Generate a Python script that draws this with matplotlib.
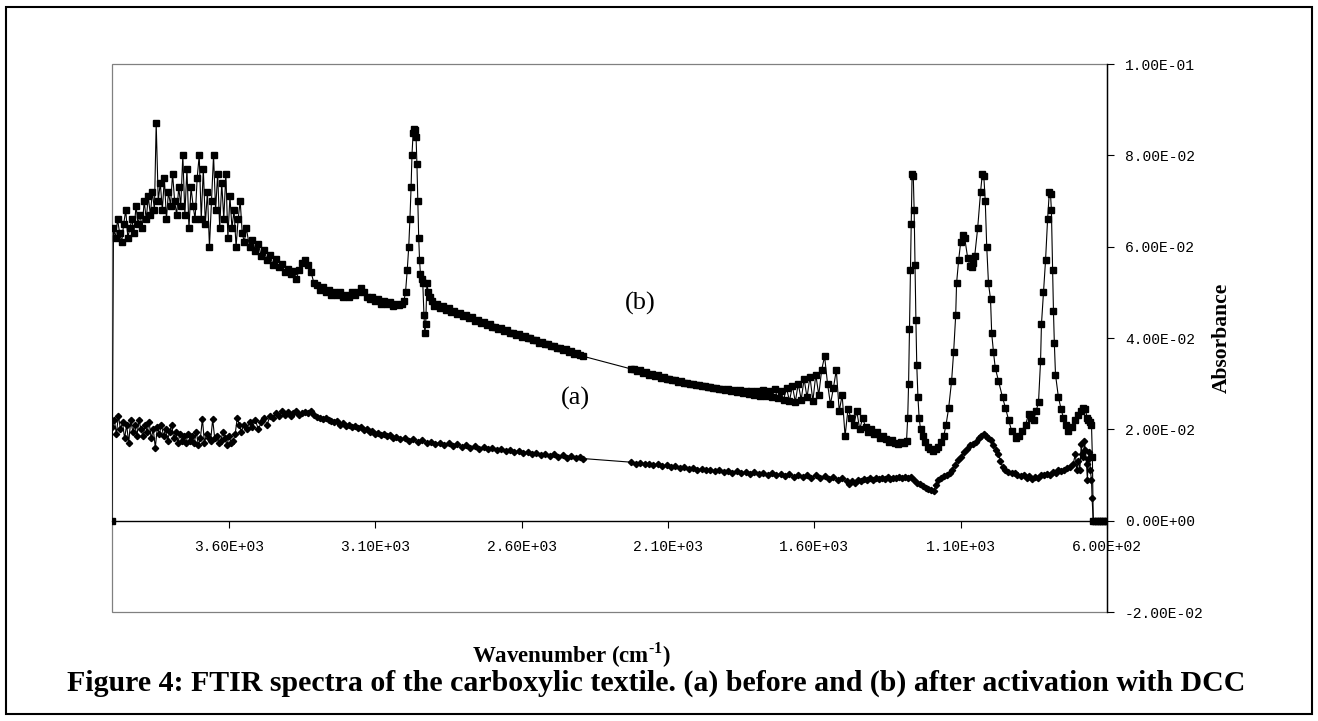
import matplotlib
matplotlib.use("Agg")
import matplotlib.pyplot as plt
from matplotlib.patches import Rectangle
from matplotlib.ticker import FuncFormatter

plt.rcParams["font.family"] = ["Liberation Serif", "DejaVu Serif"]
plt.rcParams["mathtext.fontset"] = "custom"
plt.rcParams["mathtext.rm"] = "Liberation Serif:bold"
plt.rcParams["mathtext.bf"] = "Liberation Serif:bold"

# ---- data (wavenumber cm-1, absorbance) ----
# (b) after activation with DCC, square markers
b_wn = [4000, 3995, 3988, 3981, 3974, 3967, 3960, 3953, 3946, 3939,
        3932, 3925, 3918, 3911, 3904, 3897, 3890, 3883, 3876, 3869,
        3862, 3855, 3849, 3842, 3835, 3828, 3821, 3814, 3807, 3800,
        3793, 3786, 3779, 3772, 3765, 3758, 3751, 3744, 3737, 3730,
        3723, 3716, 3709, 3702, 3695, 3688, 3681, 3674, 3667, 3660,
        3653, 3646, 3639, 3632, 3625, 3618, 3611, 3604, 3597, 3590,
        3583, 3576, 3569, 3562, 3555, 3548, 3541,
        3530, 3520, 3510, 3500, 3490, 3480, 3470, 3460, 3450, 3440,
        3430, 3420, 3410, 3400, 3390, 3380, 3370, 3360, 3350, 3340,
        3330, 3320, 3310, 3300, 3290, 3280, 3270, 3260, 3250, 3240,
        3230, 3220, 3210, 3200, 3190, 3180, 3170, 3160, 3150, 3140,
        3130, 3120, 3110, 3100, 3090, 3080, 3070, 3060, 3050, 3040,
        3030, 3020, 3010, 3003,
        2997, 2991, 2986, 2982, 2978, 2975, 2971, 2967, 2964, 2961,
        2958, 2955, 2952, 2949, 2946, 2942, 2938, 2934, 2931, 2928,
        2924, 2919, 2913, 2906, 2898, 2890, 2880, 2870, 2860, 2850,
        2840, 2830, 2820, 2810, 2800, 2790, 2780, 2770, 2760, 2750,
        2740, 2730, 2720, 2710, 2700, 2690, 2680, 2670, 2660, 2650,
        2640, 2630, 2620, 2610, 2600, 2590, 2580, 2570, 2560, 2550,
        2540, 2530, 2520, 2510, 2500, 2490, 2480, 2470, 2460, 2450,
        2440, 2430, 2420, 2410, 2400, 2390,
        2225, 2215, 2205, 2195, 2185, 2175, 2165, 2155, 2145, 2135,
        2125, 2115, 2105, 2095, 2085, 2075, 2065, 2055, 2045, 2035,
        2025, 2015, 2005, 1995, 1985, 1975, 1965, 1955, 1945, 1935,
        1925, 1915, 1905, 1895, 1885, 1875, 1865, 1855, 1845, 1835,
        1825, 1815, 1805, 1795, 1785, 1775, 1765, 1755, 1745, 1735,
        1725, 1715, 1705, 1695, 1685, 1675, 1665, 1655, 1645, 1635,
        1625, 1615, 1605, 1595, 1585, 1575, 1565, 1555, 1545, 1535,
        1525, 1515, 1505, 1495, 1485, 1475, 1465, 1455, 1445, 1435,
        1425, 1415, 1405, 1395, 1385, 1375, 1365, 1355, 1345, 1335,
        1325, 1315, 1305, 1295, 1285,
        1281, 1278, 1275, 1272, 1269, 1266, 1262, 1259, 1256, 1253,
        1250, 1246, 1242, 1237, 1230, 1222, 1213, 1204, 1195, 1186,
        1177, 1168, 1158, 1150, 1141, 1131, 1124, 1117, 1114, 1107,
        1100, 1093, 1086, 1076, 1068, 1063, 1057, 1052, 1042, 1032,
        1026, 1021, 1016, 1011, 1005, 998, 994, 988, 982, 971,
        957, 947, 936, 926, 912, 902, 892, 878, 868, 859,
        851, 842, 834, 827, 824, 817, 810, 803, 797, 793,
        790, 786, 783, 780, 776, 766, 757, 749, 740, 732,
        720, 708, 698, 688, 681, 674, 668, 664, 657, 653,
        650, 647, 640, 632, 624, 616, 608, 600]
b_abs = [0.0, .064, .062, .066, .063, .061, .065, .068, .062, .064,
         .066, .063, .069, .065, .067, .064, .070, .066, .071, .067,
         .072, .068, .087, .070, .074, .068, .075, .066, .072, .069,
         .076, .070, .067, .073, .069, .080, .067, .077, .064, .073,
         .069, .066, .075, .080, .066, .077, .065, .072, .060, .070,
         .080, .068, .076, .064, .074, .066, .076, .062, .071, .064,
         .068, .060, .066, .070, .063, .061, .064,
         .0600, .0615, .0590, .0605, .0580, .0592, .0570, .0582, .0560, .0572,
         .0555, .0562, .0545, .0552, .0540, .0547, .0530, .0550, .0565, .0570,
         .0560, .0545, .0520, .0515, .0505, .0512, .0500, .0506, .0495, .0501,
         .0495, .0500, .0490, .0495, .0490, .0500, .0495, .0500, .0510, .0500,
         .0490, .0485, .0490, .0480, .0485, .0475, .0480, .0475, .0478, .0470,
         .0475, .0472, .0475, .0480,
         .0500, .0550, .0600, .0660, .0730, .0800, .0850, .0858, .0855, .0840,
         .0780, .0700, .0620, .0570, .0540, .0530, .0520, .0450, .0410, .0430,
         .0520, .0500, .0490, .0480, .0470, .0475, .0465, .0470, .0462, .0465,
         .0458, .0460, .0452, .0455, .0448, .0450, .0443, .0445, .0438, .0440,
         .0433, .0435, .0428, .0430, .0424, .0425, .0419, .0421, .0415, .0417,
         .0411, .0412, .0406, .0408, .0403, .0404, .0399, .0400, .0395, .0396,
         .0390, .0391, .0386, .0387, .0382, .0383, .0378, .0379, .0374, .0375,
         .0370, .0371, .0366, .0367, .0362, .0360,
         .0332, .0333, .0328, .0329, .0324, .0325, .0320, .0321, .0316, .0318,
         .0313, .0314, .0310, .0311, .0307, .0308, .0304, .0305, .0301, .0302,
         .0299, .0300, .0296, .0297, .0294, .0295, .0292, .0293, .0290, .0291,
         .0288, .0289, .0286, .0288, .0284, .0287, .0282, .0286, .0280, .0285,
         .0278, .0284, .0276, .0283, .0274, .0286, .0272, .0284, .0270, .0288,
         .0268, .0285, .0265, .0290, .0262, .0295, .0260, .0300, .0265, .0310,
         .0270, .0315, .0262, .0320, .0275, .0330, .0360, .0300, .0255, .0290,
         .0330, .0240, .0275, .0185, .0245, .0225, .0210, .0240, .0200, .0225,
         .0205, .0195, .0200, .0190, .0195, .0180, .0185, .0178, .0172, .0176,
         .0170, .0168, .0172, .0170, .0175,
         .0225, .0300, .0420, .0550, .0650, .0760, .0755, .0680, .0560, .0440,
         .0340, .0270, .0225, .0200, .0185, .0172, .0162, .0157, .0153, .0156,
         .0162, .0172, .0185, .0210, .0247, .0306, .0370, .0450, .0520, .0570,
         .0610, .0625, .0618, .0575, .0558, .0555, .0565, .0580, .0640, .0720,
         .0760, .0755, .0700, .0600, .0520, .0485, .0410, .0370, .0335, .0306,
         .0270, .0247, .0220, .0197, .0180, .0185, .0197, .0210, .0234, .0225,
         .0220, .0240, .0260, .0350, .0430, .0500, .0570, .0660, .0720, .0715,
         .0680, .0550, .0460, .0390, .0320, .0270, .0245, .0225, .0210, .0197,
         .0205, .0220, .0232, .0240, .0247, .0245, .0225, .0220, .0215, .0210,
         .0140, 0.0, 0.0, 0.0, 0.0, 0.0, 0.0, 0.0]

# (a) before activation, diamond markers
a_wn = [3999, 3992, 3985, 3978, 3971, 3964, 3957, 3950, 3943, 3936,
        3929, 3922, 3915, 3908, 3901, 3894, 3887, 3880, 3873, 3866,
        3859, 3852, 3845, 3838, 3831, 3824, 3817, 3810, 3803, 3796,
        3789, 3782, 3775, 3768, 3761, 3754, 3747, 3740, 3733, 3726,
        3719, 3712, 3705, 3698, 3691, 3684, 3677, 3670, 3663, 3656,
        3649, 3642, 3635, 3628, 3621, 3614, 3607, 3600, 3593, 3586,
        3579, 3572, 3565, 3558,
        3550, 3540, 3530, 3520, 3510, 3500, 3490, 3480, 3470, 3460,
        3450, 3440, 3430, 3420, 3410, 3400, 3390, 3380, 3370, 3360,
        3350, 3340, 3330, 3320, 3310, 3300, 3290, 3280, 3270, 3260,
        3250, 3240, 3230, 3220, 3210, 3200, 3190, 3180, 3170, 3160,
        3150, 3140, 3130, 3120, 3110, 3100, 3090, 3080, 3070, 3060,
        3050, 3040, 3030, 3015, 3000, 2985, 2970, 2955, 2940, 2925,
        2910, 2895, 2880, 2865, 2850, 2835, 2820, 2805, 2790, 2775,
        2760, 2745, 2730, 2715, 2700, 2685, 2670, 2655, 2640, 2625,
        2610, 2595, 2580, 2565, 2550, 2535, 2520, 2505, 2490, 2475,
        2460, 2445, 2430, 2415, 2400, 2390,
        2225, 2210, 2195, 2180, 2165, 2150, 2135, 2120, 2105, 2090,
        2075, 2060, 2045, 2030, 2015, 2000, 1985, 1970, 1955, 1940,
        1925, 1910, 1895, 1880, 1865, 1850, 1835, 1820, 1805, 1790,
        1775, 1760, 1745, 1730, 1715, 1700, 1685, 1670, 1655, 1640,
        1625, 1610, 1595, 1580, 1565, 1550, 1535, 1520, 1505, 1490,
        1480, 1470, 1460, 1450, 1440, 1430, 1420, 1410, 1400, 1390,
        1380, 1370, 1360, 1350, 1340, 1330, 1320, 1310, 1300, 1290,
        1280, 1270, 1260, 1250, 1240, 1230, 1220, 1210, 1200, 1192,
        1184, 1176, 1166, 1158, 1148, 1138, 1128, 1118, 1108, 1098,
        1088, 1078, 1068, 1058, 1048, 1038, 1030, 1022, 1014, 1006,
        998, 988, 978, 971, 964, 957, 947, 937, 926, 916,
        906, 895, 885, 875, 865, 855, 845, 835, 825, 815,
        805, 795, 785, 775, 766, 756, 746, 735, 725, 715,
        708, 704, 698, 693, 688, 685, 681, 677, 674, 670,
        667, 664, 660, 657, 653, 651, 647, 640, 632, 624,
        616, 608, 600]
a_abs = [.0205, .0220, .0190, .0230, .0200, .0215, .0180, .0210, .0170, .0220,
         .0195, .0210, .0185, .0220, .0200, .0185, .0210, .0195, .0215, .0180,
         .0200, .0160, .0205, .0190, .0210, .0185, .0200, .0175, .0195, .0210,
         .0180, .0195, .0170, .0190, .0175, .0185, .0170, .0190, .0175, .0185,
         .0170, .0195, .0165, .0180, .0223, .0170, .0190, .0180, .0175, .0222,
         .0180, .0185, .0170, .0175, .0195, .0180, .0165, .0185, .0170, .0175,
         .0190, .0225, .0210, .0195,
         .0210, .0200, .0215, .0205, .0220, .0200, .0215, .0225, .0210, .0230,
         .0225, .0235, .0230, .0240, .0232, .0238, .0230, .0235, .0240, .0232,
         .0236, .0238, .0235, .0240, .0232, .0228, .0225, .0222, .0225, .0220,
         .0218, .0215, .0218, .0210, .0213, .0208, .0210, .0205, .0207, .0202,
         .0205, .0198, .0200, .0195, .0197, .0190, .0193, .0188, .0190, .0185,
         .0187, .0180, .0183, .0178, .0180, .0175, .0178, .0172, .0176, .0170,
         .0173, .0168, .0171, .0166, .0169, .0164, .0167, .0162, .0165, .0160,
         .0163, .0158, .0161, .0156, .0159, .0154, .0157, .0152, .0155, .0150,
         .0153, .0148, .0151, .0146, .0149, .0144, .0147, .0142, .0145, .0140,
         .0143, .0138, .0141, .0137, .0139, .0136,
         .0128, .0125, .0127, .0123, .0125, .0121, .0123, .0119, .0121, .0117,
         .0119, .0115, .0117, .0113, .0115, .0111, .0113, .0110, .0112, .0108,
         .0110, .0107, .0109, .0105, .0108, .0104, .0107, .0103, .0106, .0102,
         .0105, .0100, .0104, .0099, .0103, .0098, .0102, .0096, .0101, .0095,
         .0100, .0094, .0099, .0093, .0098, .0092, .0096, .0090, .0094, .0086,
         .0081, .0086, .0083, .0089, .0086, .0091, .0088, .0093, .0090, .0094,
         .0091, .0094, .0092, .0095, .0092, .0094, .0093, .0095, .0094, .0096,
         .0094, .0096, .0090, .0083, .0080, .0076, .0072, .0070, .0068, .0066,
         .0078, .0088, .0094, .0097, .0100, .0105, .0112, .0122, .0133, .0140,
         .0150, .0158, .0165, .0168, .0173, .0180, .0186, .0190, .0185, .0180,
         .0176, .0165, .0155, .0147, .0130, .0118, .0110, .0106, .0105, .0104,
         .0100, .0098, .0100, .0094, .0097, .0092, .0096, .0094, .0100, .0099,
         .0103, .0101, .0106, .0104, .0110, .0108, .0112, .0115, .0118, .0125,
         .0147, .0110, .0130, .0110, .0168, .0147, .0140, .0175, .0155, .0124,
         .0090, .0135, .0150, .0110, .0090, .0050, 0.0, 0.0, 0.0, 0.0,
         0.0, 0.0, 0.0]

x_ticks = [3600, 3100, 2600, 2100, 1600, 1100, 600]
y_ticks = [-0.02, 0.0, 0.02, 0.04, 0.06, 0.08, 0.10]

W, H = 1318, 721
fig = plt.figure(figsize=(W / 100, H / 100), dpi=100)
ax = fig.add_axes([112 / W, 1 - 612 / H, 995 / W, 548 / H])

ax.plot(b_wn, b_abs, color="k", lw=0.8, marker="s", ms=3.8, mfc="k", mec="k", zorder=3)
ax.plot(a_wn, a_abs, color="k", lw=0.8, marker="D", ms=3.2, mfc="k", mec="k", zorder=3)

ax.set_xlim(4000, 600)
ax.set_ylim(-0.02, 0.10)

# plot area frame (grey) and black axes crossing at y=0 / x=600
ax.add_patch(Rectangle((0, 0), 1, 1, transform=ax.transAxes, fill=False,
                       ec="#808080", lw=0.9, clip_on=False, zorder=1))
ax.spines["left"].set_visible(False)
ax.spines["top"].set_visible(False)
ax.spines["bottom"].set_position(("data", 0))
ax.spines["bottom"].set_color("k")
ax.spines["bottom"].set_linewidth(1.0)
ax.spines["right"].set_color("k")
ax.spines["right"].set_linewidth(1.0)

ax.yaxis.tick_right()
ax.set_xticks(x_ticks)
ax.set_yticks(y_ticks)
sci = FuncFormatter(lambda v, p: f"{v:.2E}")
ax.xaxis.set_major_formatter(sci)
ax.yaxis.set_major_formatter(sci)
ax.tick_params(axis="x", direction="out", length=5, width=0.8, pad=9)
ax.tick_params(axis="y", direction="out", length=5, width=0.8, pad=8)
for lbl in ax.get_xticklabels() + ax.get_yticklabels():
    lbl.set_fontfamily("Liberation Mono")
    lbl.set_fontsize(10.5)

ax.text(2195, 0.0475, "(b)", ha="center", va="center", fontsize=19)
ax.text(2417, 0.0268, "(a)", ha="center", va="center", fontsize=19)

fig.text(571 / W, 1 - 655 / H, r"Wavenumber (cm$^{\text{-1}}$)", ha="center", va="center",
         fontsize=16.5, fontweight="bold")
fig.text(1222 / W, 1 - 338 / H, "Absorbance", rotation=90, ha="center", va="center",
         fontsize=15.5, fontweight="bold")
fig.text(656 / W, 1 - 683 / H,
         "Figure 4: FTIR spectra of the carboxylic textile. (a) before and (b) after activation with DCC",
         ha="center", va="center", fontsize=21.5, fontweight="bold")

# outer border of the figure
fig.add_artist(Rectangle((6 / W, 1 - 714 / H), 1306 / W, 707 / H, transform=fig.transFigure,
                         fill=False, ec="k", lw=1.5))

fig.savefig("out.png", dpi=100)
